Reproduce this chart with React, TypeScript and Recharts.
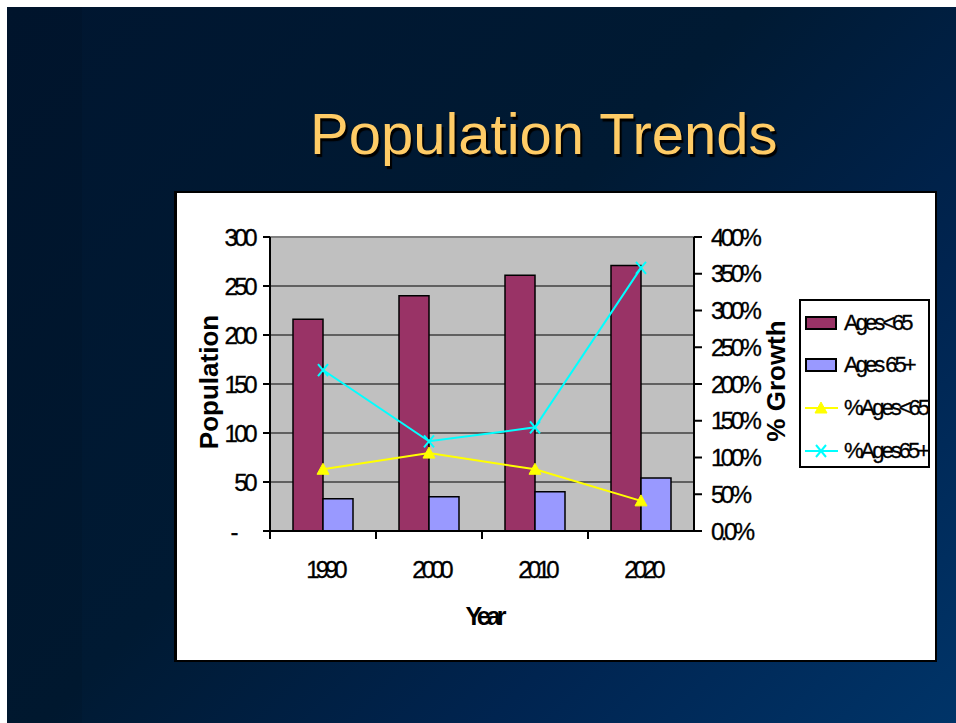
import React from 'react';
import { ComposedChart, Bar, Line, XAxis, YAxis, CartesianGrid, Legend, ReferenceLine, Label } from 'recharts';

const years = ['1990', '2000', '2010', '2020'];
const agesUnder65 = [216, 240, 261, 271];
const ages65Plus = [33, 35, 40, 54];
const pctAgesUnder65 = [84, 106, 84, 41];
const pctAges65Plus = [219, 122, 141, 358];
const leftTicks = [0, 50, 100, 150, 200, 250, 300];
const rightTicks = [0, 50, 100, 150, 200, 250, 300, 350, 400];
const seriesNames = ['Ages<65', 'Ages 65+', '%Ages<65', '%Ages65+'];
const seriesColors = ['#993366', '#9999FF', '#FFFF00', '#00FFFF'];
const titleText = 'Population Trends';
const leftTitle = 'Population';
const rightTitle = '% Growth';
const xTitle = 'Year';

const data = years.map((y, i) => ({
  year: y,
  under65: agesUnder65[i],
  over65: ages65Plus[i],
  pctUnder65: pctAgesUnder65[i],
  pctOver65: pctAges65Plus[i],
}));

const FONT = '"Liberation Sans", Arial, sans-serif';

const LeftTick = (props: any) => {
  const { x, y, payload } = props;
  const v = payload.value;
  return (
    <text
      x={v === 0 ? x - 19 : x}
      y={y}
      textAnchor="end"
      dominantBaseline="central"
      fontSize={24}
      letterSpacing={-3.5}
      fill="#000"
      stroke="#000"
      strokeWidth={0.3}
      fontFamily={FONT}
    >
      {v === 0 ? '-' : String(v)}
    </text>
  );
};

const RightTick = (props: any) => {
  const { x, y, payload } = props;
  const v = payload.value;
  return (
    <text
      x={x}
      y={y}
      textAnchor="start"
      dominantBaseline="central"
      fontSize={24}
      letterSpacing={-3.5}
      fill="#000"
      stroke="#000"
      strokeWidth={0.3}
      fontFamily={FONT}
    >
      {v === 0 ? '0.0%' : `${v}%`}
    </text>
  );
};

const XTick = (props: any) => {
  const { x, y, payload, width, visibleTicksCount } = props;
  const half =
    payload && typeof payload.offset === 'number' && payload.offset > 0
      ? payload.offset
      : width / (visibleTicksCount || 4) / 2;
  const axisY = y - 30;
  return (
    <g>
      <line x1={x - half} x2={x - half} y1={axisY} y2={axisY + 8} stroke="#000" strokeWidth={2} />
      <text
        x={x + 2}
        y={y}
        dy="0.71em"
        textAnchor="middle"
        fontSize={24}
        letterSpacing={-4}
        fill="#000"
        stroke="#000"
        strokeWidth={0.3}
        fontFamily={FONT}
      >
        {payload.value}
      </text>
    </g>
  );
};

const TriDot = (props: any) => {
  const { cx, cy } = props;
  if (cx == null || cy == null) return null;
  return <path d={`M${cx},${cy - 6} L${cx + 6},${cy + 5} L${cx - 6},${cy + 5} Z`} fill="#FFFF00" stroke="#FFFF00" />;
};

const XDot = (props: any) => {
  const { cx, cy } = props;
  if (cx == null || cy == null) return null;
  return (
    <path
      d={`M${cx - 5},${cy - 6} L${cx + 5},${cy + 6} M${cx + 5},${cy - 6} L${cx - 5},${cy + 6}`}
      stroke="#00FFFF"
      strokeWidth={2}
      fill="none"
    />
  );
};

const LegendBox = () => (
  <div
    style={{
      position: 'relative',
      width: 131,
      height: 169,
      boxSizing: 'border-box',
      border: '2px solid #000',
      background: '#fff',
      fontFamily: FONT,
      fontSize: 22,
      letterSpacing: -3,
      color: '#000',
      paddingTop: 1,
      WebkitTextStroke: '0.3px #000',
    }}
  >
    {seriesNames.map((name, i) => (
      <div key={name} style={{ position: 'relative', height: i < 2 ? 42 : 43, whiteSpace: 'nowrap', display: 'flex', alignItems: 'center' }}>
        <div style={{ width: 32, height: 14, marginLeft: 4, position: 'relative', flex: 'none' }}>
          {i < 2 ? (
            <div style={{ width: 32, height: 14, boxSizing: 'border-box', border: '2px solid #000', background: seriesColors[i] }} />
          ) : (
            <svg width={34} height={14} style={{ position: 'absolute', left: 0, top: 0, overflow: 'visible' }}>
              <line x1={0} x2={33} y1={7} y2={7} stroke={seriesColors[i]} strokeWidth={2} />
              {i === 2 ? <TriDot cx={16} cy={7} /> : <XDot cx={16} cy={7} />}
            </svg>
          )}
        </div>
        <span style={{ marginLeft: 7, lineHeight: '42px' }}>{name}</span>
      </div>
    ))}
  </div>
);

export default function App() {
  return (
    <div style={{ position: 'fixed', left: 0, top: 0, width: 956, height: 723, background: '#fff', overflow: 'hidden' }}>
      <div
        style={{
          position: 'absolute',
          left: 7,
          top: 7,
          width: 949,
          height: 716,
          background: 'linear-gradient(135deg, #001630 0%, #001a33 45%, #002450 72%, #003468 100%)',
        }}
      />
      <div
        style={{
          position: 'absolute',
          left: 7,
          top: 7,
          width: 75,
          height: 716,
          background: 'rgba(0,0,0,0.07)',
        }}
      />
      <div
        style={{
          position: 'absolute',
          left: 310,
          top: 105,
          fontFamily: FONT,
          fontSize: 58,
          lineHeight: 1,
          color: '#FFCC66',
          whiteSpace: 'nowrap',
          textShadow: '2px 3px 1px #000',
        }}
      >
        {titleText}
      </div>
      <div
        style={{
          position: 'absolute',
          left: 174,
          top: 191,
          width: 763,
          height: 471,
          boxSizing: 'border-box',
          borderTop: '2px solid #000',
          borderLeft: '3px solid #000',
          borderRight: '2px solid #000',
          borderBottom: '2px solid #000',
          background: '#fff',
        }}
      />
      <div style={{ position: 'absolute', left: 177, top: 194 }}>
        <ComposedChart
          width={758}
          height={466}
          data={data}
          margin={{ top: 43, right: 181, bottom: 69, left: 33 }}
          barGap={0}
          style={{ fontFamily: FONT, overflow: 'visible' }}
        >
          <CartesianGrid yAxisId="left" vertical={false} stroke="#000" strokeWidth={1} fill="#C0C0C0" fillOpacity={1} />
          <XAxis
            dataKey="year"
            type="category"
            interval={0}
            height={60}
            axisLine={{ stroke: '#000', strokeWidth: 2 }}
            tickLine={false}
            tickSize={8}
            tickMargin={22}
            tick={<XTick />}
          >
            <Label
              content={(p: any) => {
                const vb = p.viewBox || { x: 93, y: 337, width: 424, height: 60 };
                return (
                  <text
                    x={vb.x + vb.width / 2 + 2}
                    y={vb.y + 94}
                    textAnchor="middle"
                    fontSize={25}
                    fontWeight="bold"
                    letterSpacing={-4}
                    fill="#000"
                    fontFamily={FONT}
                  >
                    {xTitle}
                  </text>
                );
              }}
            />
          </XAxis>
          <YAxis
            yAxisId="left"
            domain={[0, 300]}
            ticks={leftTicks}
            interval={0}
            width={60}
            axisLine={{ stroke: '#000', strokeWidth: 2 }}
            tickLine={{ stroke: '#000', strokeWidth: 2 }}
            tickSize={7}
            tickMargin={9}
            tick={<LeftTick />}
          >
            <Label
              content={(p: any) => {
                const vb = p.viewBox || { x: 33, y: 43, width: 60, height: 294 };
                const cx = vb.x + 8;
                const cy = vb.y + vb.height / 2 - 2;
                return (
                  <text
                    x={cx}
                    y={cy}
                    transform={`rotate(-90, ${cx}, ${cy})`}
                    textAnchor="middle"
                    fontSize={26}
                    fontWeight="bold"
                    fill="#000"
                    fontFamily={FONT}
                  >
                    {leftTitle}
                  </text>
                );
              }}
            />
          </YAxis>
          <YAxis
            yAxisId="right"
            orientation="right"
            domain={[0, 400]}
            ticks={rightTicks}
            interval={0}
            width={60}
            axisLine={{ stroke: '#000', strokeWidth: 2 }}
            tickLine={{ stroke: '#000', strokeWidth: 2 }}
            tickSize={8}
            tickMargin={9}
            tick={<RightTick />}
          >
            <Label
              content={(p: any) => {
                const vb = p.viewBox || { x: 517, y: 43, width: 60, height: 294 };
                const cx = vb.x + 91;
                const cy = vb.y + vb.height / 2 - 3;
                return (
                  <text
                    x={cx}
                    y={cy}
                    transform={`rotate(-90, ${cx}, ${cy})`}
                    textAnchor="middle"
                    fontSize={26}
                    fontWeight="bold"
                    fill="#000"
                    fontFamily={FONT}
                  >
                    {rightTitle}
                  </text>
                );
              }}
            />
          </YAxis>
          <ReferenceLine yAxisId="left" y={300} stroke="#808080" strokeWidth={2} />
          <Bar
            yAxisId="left"
            dataKey="under65"
            name={seriesNames[0]}
            fill={seriesColors[0]}
            stroke="#000"
            strokeWidth={1.5}
            barSize={30}
            isAnimationActive={false}
          />
          <Bar
            yAxisId="left"
            dataKey="over65"
            name={seriesNames[1]}
            fill={seriesColors[1]}
            stroke="#000"
            strokeWidth={1.5}
            barSize={30}
            isAnimationActive={false}
          />
          <Line
            yAxisId="right"
            dataKey="pctUnder65"
            name={seriesNames[2]}
            stroke={seriesColors[2]}
            strokeWidth={2}
            dot={<TriDot />}
            activeDot={false}
            isAnimationActive={false}
          />
          <Line
            yAxisId="right"
            dataKey="pctOver65"
            name={seriesNames[3]}
            stroke={seriesColors[3]}
            strokeWidth={2}
            dot={<XDot />}
            activeDot={false}
            isAnimationActive={false}
          />
          <Legend
            layout="horizontal"
            align="center"
            verticalAlign="middle"
            content={() => <LegendBox />}
            wrapperStyle={{ left: 622, top: 105, width: 131, height: 169 }}
          />
        </ComposedChart>
      </div>
    </div>
  );
}
